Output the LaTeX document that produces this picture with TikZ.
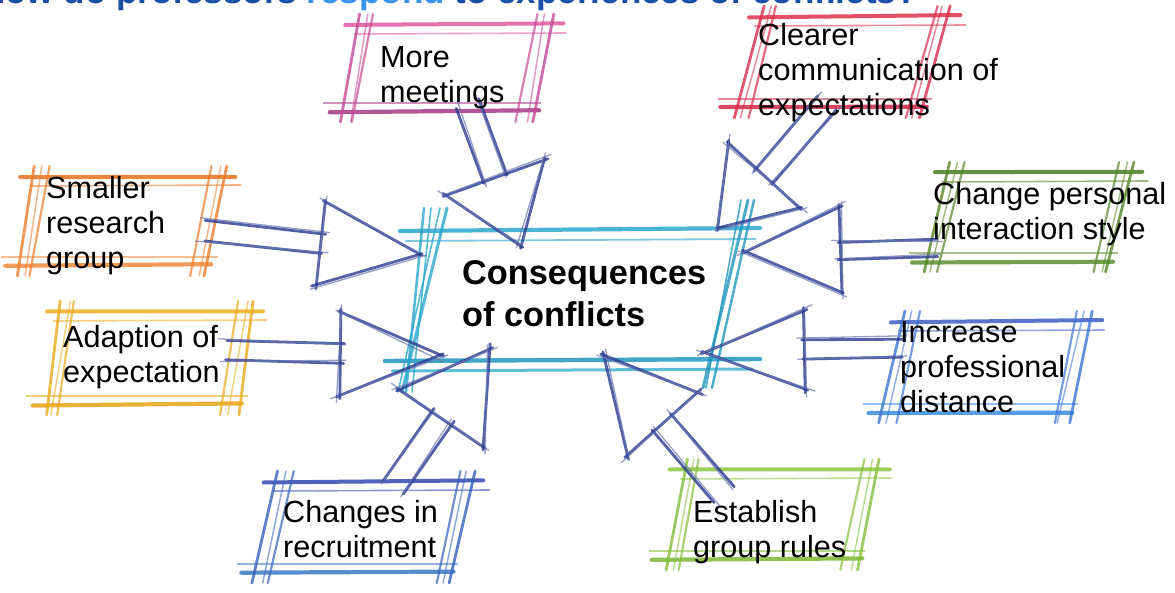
\documentclass[tikz,border=0pt]{standalone}
\usepackage{fontspec}
\setmainfont{Liberation Sans}
\usetikzlibrary{calc}

\definecolor{orangeA}{HTML}{E9701E}
\definecolor{orangeB}{HTML}{F08A3A}
\definecolor{yellowA}{HTML}{EDB020}
\definecolor{yellowB}{HTML}{E6A416}
\definecolor{pinkA}{HTML}{E25A9E}
\definecolor{pinkB}{HTML}{A8388A}
\definecolor{redA}{HTML}{E0304C}
\definecolor{redB}{HTML}{D02848}
\definecolor{dgreenA}{HTML}{4C7C22}
\definecolor{dgreenB}{HTML}{5F9030}
\definecolor{blueA}{HTML}{3E5EC6}
\definecolor{blueB}{HTML}{3A8CE0}
\definecolor{lgreenA}{HTML}{8DC63F}
\definecolor{lgreenB}{HTML}{7DB834}
\definecolor{recA}{HTML}{3248B2}
\definecolor{recB}{HTML}{3A7CC6}
\definecolor{cyanA}{HTML}{2CA8CC}
\definecolor{cyanB}{HTML}{1F96BE}
\definecolor{arrowc}{HTML}{2A3B8F}
\definecolor{titleblue}{HTML}{1A4FA8}
\definecolor{respondblue}{HTML}{3A93EE}

% one pencil stroke: a firm line and a lighter, slightly longer one
\newcommand{\pline}[3]{%
  \draw[#1, line width=2.8pt, opacity=.8, line cap=round]
    ($(#2)!-0.03!(#3)+(rand*1.5,rand*1.5)$) -- ($(#3)!-0.03!(#2)+(rand*1.5,rand*1.5)$);
  \draw[#1!70!white, line width=1.3pt, opacity=.7, line cap=round]
    ($(#2)!-0.08!(#3)+(rand*3,rand*3)$) -- ($(#3)!-0.06!(#2)+(rand*3,rand*3)$);
}

% hand-drawn block arrow: start, tip, head length, head half width, shaft half width
\newcommand{\blockarrow}[5]{%
  \coordinate (ab) at ($(#2)!#3!(#1)$);
  \coordinate (ah1) at ($(ab)!#4!90:(#2)$);
  \coordinate (ah2) at ($(ab)!#4!-90:(#2)$);
  \coordinate (as1) at ($(#1)!#5!90:(#2)$);
  \coordinate (as2) at ($(#1)!#5!-90:(#2)$);
  \coordinate (ae1) at ($(ab)!#5!90:(#2)$);
  \coordinate (ae2) at ($(ab)!#5!-90:(#2)$);
  \pline{arrowc}{as1}{ae1}
  \pline{arrowc}{as2}{ae2}
  \pline{arrowc}{ah1}{ah2}
  \pline{arrowc}{ah1}{#2}
  \pline{arrowc}{ah2}{#2}
}

% sketched parallelogram: top colour, bottom colour, top-left x, top-right x, top y, bottom y, slant
\newcommand{\sketchbox}[7]{%
  \pgfmathsetmacro{\blx}{#3-#7}%
  \pgfmathsetmacro{\brx}{#4-#7}%
  \draw[#1, line width=4pt, opacity=.85, line cap=round] (#3-20+2*rand,#5+rand) -- (#4+14+2*rand,#5-1+rand);
  \draw[#1, line width=1.6pt, opacity=.55] (#3-12+2*rand,#5+9) -- (#4+18+2*rand,#5+8);
  \draw[#2, line width=4.2pt, opacity=.85, line cap=round] (\blx-16+2*rand,#6+rand) -- (\brx+10+2*rand,#6-1+rand);
  \draw[#2, line width=1.6pt, opacity=.55] (\blx-20+2*rand,#6-9) -- (\brx+14+2*rand,#6-9);
  \foreach \dd/\lw/\op in {-4/2.8/.8, 3/1.5/.55, 9/2.2/.7}
    \draw[#1!50!#2, line width=\lw pt, opacity=\op, line cap=round]
      (#3+\dd+rand*2,#5-11) -- (\blx+\dd+rand*3,#6+10);
  \foreach \dd/\lw/\op in {-10/2.2/.7, -3/1.5/.55, 4/2.8/.8}
    \draw[#1!50!#2, line width=\lw pt, opacity=\op, line cap=round]
      (#4+\dd+rand*2,#5-11) -- (\brx+\dd+rand*3,#6+10);
}

\tikzset{
  lbl/.style={anchor=north west, inner sep=0pt, align=left,
              font=\fontsize{30.6}{35}\selectfont},
  hub/.style={anchor=north west, inner sep=0pt, align=left,
              font=\bfseries\fontsize{34.3}{42}\selectfont},
}

\begin{document}
\begin{tikzpicture}[x=1pt, y=-1pt]
\pgfmathsetseed{42}
\useasboundingbox (0,0) rectangle (1175,593);
\fill[white] (0,0) rectangle (1175,593);

% heading, mostly above the sheet edge
\node[anchor=base west, inner sep=0pt, text=titleblue,
      font=\bfseries\fontsize{35}{40}\selectfont] (title) at (-20,4)
  {How do professors \textcolor{respondblue}{respond} to experiences of conflicts?};

% outer boxes
\sketchbox{orangeA}{orangeB}{40}{222}{177}{266}{20}
\sketchbox{yellowA}{yellowB}{66}{250}{312}{405}{18}
\sketchbox{pinkA}{pinkB}{365}{548}{25}{112}{20}
\sketchbox{redA}{redB}{768}{947}{17}{108}{30}
\sketchbox{dgreenA}{dgreenB}{955}{1130}{173}{262}{27}
\sketchbox{blueA}{blueB}{910}{1088}{322}{413}{25}
\sketchbox{lgreenA}{lgreenB}{690}{875}{470}{560}{22}
\sketchbox{recA}{recB}{283}{470}{482}{573}{25}

% central box
\draw[cyanA, line width=4.2pt, opacity=.85, line cap=round] (400,231) -- (760,228);
\draw[cyanA, line width=1.8pt, opacity=.6] (405,241) -- (756,239);
\draw[cyanB, line width=4.4pt, opacity=.85, line cap=round] (385,361) -- (760,359);
\draw[cyanA, line width=3pt, opacity=.75, line cap=round] (392,371) -- (752,369);
\foreach \ax/\bx/\lw in {447/402/3, 440/398/1.6, 424/406/2.6, 431/412/1.6}
  \draw[cyanA, line width=\lw pt, opacity=.8, line cap=round] (\ax,208) -- (\bx,392);
\foreach \ax/\bx/\lw in {748/703/3, 741/706/1.6, 754/712/2.4}
  \draw[cyanB, line width=\lw pt, opacity=.8, line cap=round] (\ax,200) -- (\bx,388);

% arrow ends
\coordinate (s1) at (208,230);  \coordinate (t1) at (420,255);
\coordinate (s2) at (230,350);  \coordinate (t2) at (440,356);
\coordinate (s3) at (468,105);  \coordinate (t3) at (520,245);
\coordinate (s4) at (826,105);  \coordinate (t4) at (718,228);
\coordinate (s5) at (935,248);  \coordinate (t5) at (745,252);
\coordinate (s6) at (900,348);  \coordinate (t6) at (705,352);
\coordinate (s7) at (722,492);  \coordinate (t7) at (605,355);
\coordinate (s8) at (395,485);  \coordinate (t8) at (490,348);

\blockarrow{s1}{t1}{100pt}{42pt}{10pt}
\blockarrow{s2}{t2}{100pt}{42pt}{9pt}
\blockarrow{s3}{t3}{72pt}{52pt}{12pt}
\blockarrow{s4}{t4}{70pt}{48pt}{12pt}
\blockarrow{s5}{t5}{95pt}{42pt}{9pt}
\blockarrow{s6}{t6}{100pt}{40pt}{10pt}
\blockarrow{s7}{t7}{90pt}{48pt}{12pt}
\blockarrow{s8}{t8}{85pt}{50pt}{12pt}

% labels
\node[lbl] (smaller) at (46,176) {Smaller\\research\\group};
\node[lbl] (adaption) at (63,325) {Adaption of\\expectation};
\node[lbl] (meetings) at (380,46) {More\\meetings};
\node[lbl] (clearer) at (758,23) {Clearer\\communication of\\expectations};
\node[lbl] (personal) at (933,182) {Change personal\\interaction style};
\node[lbl] (distance) at (900,321) {Increase\\professional\\distance};
\node[lbl] (rules) at (693,500) {Establish\\group rules};
\node[lbl] (recruit) at (283,500) {Changes in\\recruitment};
\node[hub] (hub) at (462,260) {Consequences\\of conflicts};
\end{tikzpicture}
\end{document}
